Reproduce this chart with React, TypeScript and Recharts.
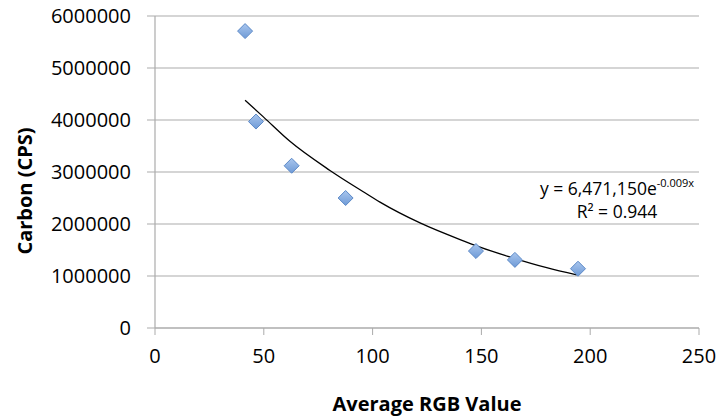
import React from 'react';
import { ScatterChart, Scatter, XAxis, YAxis, CartesianGrid } from 'recharts';

const rgbValues = [41.4, 46.4, 62.8, 87.6, 147.5, 165.4, 194.4];
const carbonCps = [5710000, 3970000, 3120000, 2500000, 1480000, 1310000, 1140000];

const trendX = [41.4, 49.8, 62.0, 80.4, 95.7, 103.4, 121.8, 140.2, 149.4, 164.7, 180.0, 193.8];
const trendY = [4380000, 4060000, 3590000, 3030000, 2620000, 2420000, 2020000, 1700000, 1555000, 1345000, 1160000, 1020000];

const xTicks = [0, 50, 100, 150, 200, 250];
const yTicks = [0, 1000000, 2000000, 3000000, 4000000, 5000000, 6000000];

const equationMain = 'y = 6,471,150e';
const equationExp = '-0.009x';
const rSquared = 'R² = 0.944';
const xTitle = 'Average RGB Value';
const yTitle = 'Carbon (CPS)';

const points = rgbValues.map((x, i) => ({ x, y: carbonCps[i] }));
const trend = trendX.map((x, i) => ({ x, y: trendY[i] }));

const FONT = '"Open Sans", "DejaVu Sans", sans-serif';
const GRID = '#ABABAB';

const Diamond = (props: any) => {
  const { cx, cy } = props;
  const r = 7.5;
  return (
    <g>
      <defs>
        <linearGradient id="dg" x1="0" y1="0" x2="0" y2="1">
          <stop offset="0%" stopColor="#A9C6EE" />
          <stop offset="100%" stopColor="#6E9AD6" />
        </linearGradient>
      </defs>
      <polygon
        points={`${cx},${cy - r} ${cx + r},${cy} ${cx},${cy + r} ${cx - r},${cy}`}
        fill="url(#dg)"
        stroke="#5C89C7"
        strokeWidth={1}
      />
    </g>
  );
};

const Empty = () => <g />;

const XTitle = (props: any) => {
  const vb = props.viewBox;
  return (
    <text x={vb.x + vb.width / 2} y={vb.y + vb.height - 6} textAnchor="middle" fontFamily={FONT} fontWeight="bold" fontSize={20} fill="#000">
      {xTitle}
    </text>
  );
};

const YTitle = (props: any) => {
  const vb = props.viewBox;
  const cx = vb.x + 32;
  const cy = vb.y + vb.height / 2 + 19;
  return (
    <text x={cx} y={cy} transform={`rotate(-90 ${cx} ${cy})`} textAnchor="middle" fontFamily={FONT} fontWeight="bold" fontSize={20} fill="#000">
      {yTitle}
    </text>
  );
};

export default function App() {
  return (
    <div style={{ position: 'absolute', left: 0, top: 0, width: 720, height: 417, background: '#fff' }}>
      <ScatterChart width={720} height={417} margin={{ top: 16, right: 21, bottom: 0, left: 0 }}>
        <CartesianGrid vertical={false} stroke={GRID} strokeWidth={1.2} />
        <XAxis
          type="number"
          dataKey="x"
          domain={[0, 250]}
          ticks={xTicks}
          height={89}
          tickSize={7}
          tickMargin={14}
          stroke={GRID}
          tickLine={{ stroke: GRID }}
          axisLine={{ stroke: GRID, strokeWidth: 1.2 }}
          tick={{ fill: '#000', fontSize: 20, fontFamily: FONT }}
          label={<XTitle />}
        />
        <YAxis
          type="number"
          dataKey="y"
          domain={[0, 6000000]}
          ticks={yTicks}
          width={155}
          tickSize={8}
          tickMargin={16}
          tickFormatter={(v: number) => String(v)}
          stroke={GRID}
          tickLine={{ stroke: GRID }}
          axisLine={{ stroke: GRID, strokeWidth: 1.2 }}
          tick={{ fill: '#000', fontSize: 20, fontFamily: FONT }}
          label={<YTitle />}
        />
        <Scatter
          data={trend}
          shape={<Empty />}
          line={{ stroke: '#000', strokeWidth: 1.3 }}
          lineJointType="monotoneX"
          isAnimationActive={false}
        />
        <Scatter data={points} shape={<Diamond />} isAnimationActive={false} />
      </ScatterChart>
      <div
        style={{
          position: 'absolute',
          left: 527,
          top: 178,
          width: 180,
          textAlign: 'center',
          fontFamily: FONT,
          fontSize: 17.5,
          lineHeight: '20px',
          color: '#000',
          whiteSpace: 'nowrap',
        }}
      >
        <div>
          {equationMain}
          <sup style={{ fontSize: 11, verticalAlign: 'baseline', position: 'relative', top: -8 }}>{equationExp}</sup>
        </div>
        <div>{rSquared}</div>
      </div>
    </div>
  );
}
